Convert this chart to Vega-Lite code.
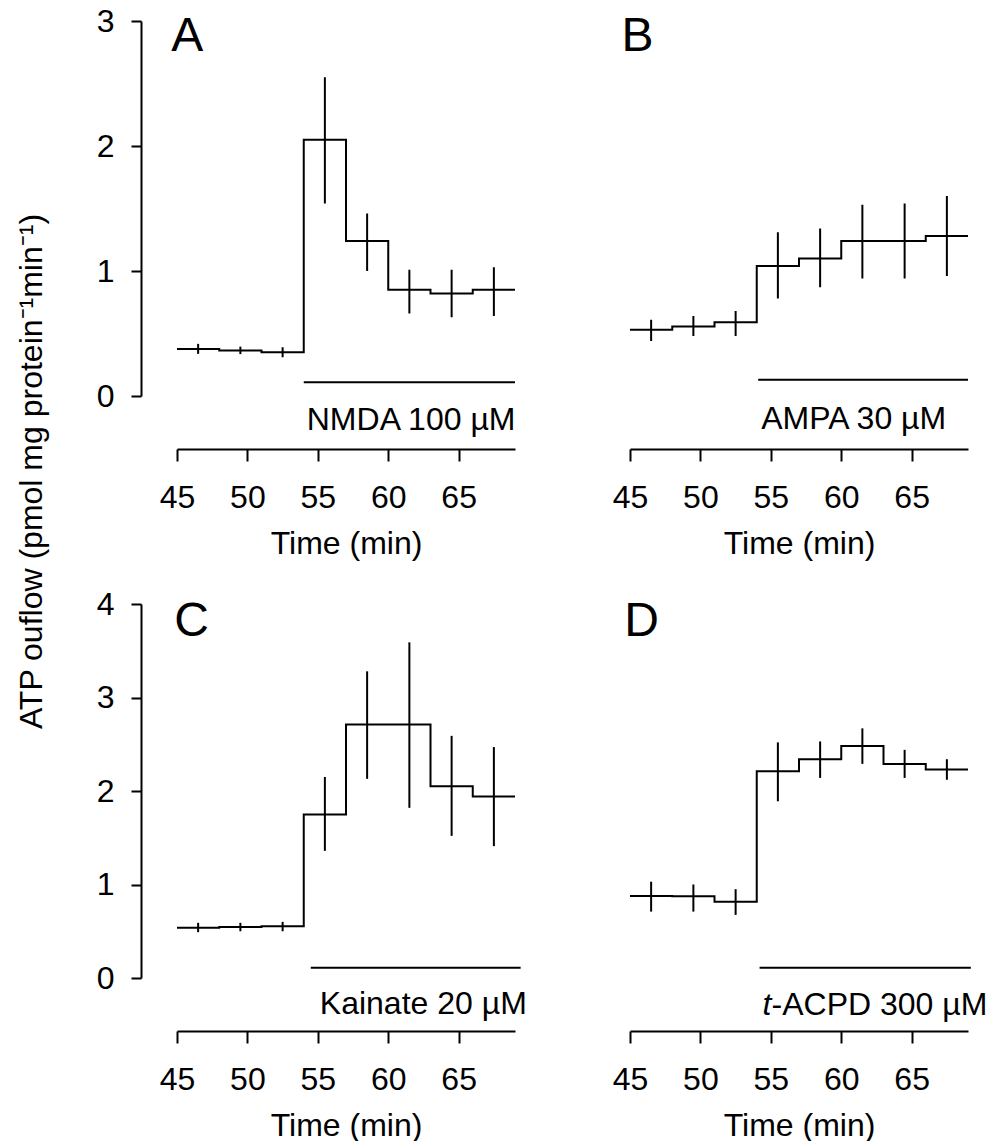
{
  "$schema": "https://vega.github.io/schema/vega-lite/v6.json",
  "padding": {"left": 15, "top": 5, "right": 0, "bottom": 0},
  "background": "white",
  "config": {
    "view": {"stroke": null},
    "font": "Liberation Sans",
    "axis": {"grid": false, "labelFlush": false, "domainColor": "black", "domainWidth": 2, "tickColor": "black", "tickWidth": 2, "labelColor": "black", "titleColor": "black", "labelFontSize": 32, "titleFontSize": 32, "titleFontWeight": "normal", "labelFont": "Liberation Sans", "titleFont": "Liberation Sans"},
    "text": {"font": "Liberation Sans", "color": "black"}
  },
  "datasets": {
    "steps": [
      {"panel": "A", "t": 45, "v": 0.377}, {"panel": "A", "t": 48, "v": 0.365}, {"panel": "A", "t": 51, "v": 0.35}, {"panel": "A", "t": 54, "v": 2.05}, {"panel": "A", "t": 57, "v": 1.24}, {"panel": "A", "t": 60, "v": 0.85}, {"panel": "A", "t": 63, "v": 0.82}, {"panel": "A", "t": 66, "v": 0.85}, {"panel": "A", "t": 69, "v": 0.85},
      {"panel": "B", "t": 45, "v": 0.53}, {"panel": "B", "t": 48, "v": 0.556}, {"panel": "B", "t": 51, "v": 0.59}, {"panel": "B", "t": 54, "v": 1.04}, {"panel": "B", "t": 57, "v": 1.1}, {"panel": "B", "t": 60, "v": 1.24}, {"panel": "B", "t": 63, "v": 1.24}, {"panel": "B", "t": 66, "v": 1.28}, {"panel": "B", "t": 69, "v": 1.28},
      {"panel": "C", "t": 45, "v": 0.537}, {"panel": "C", "t": 48, "v": 0.545}, {"panel": "C", "t": 51, "v": 0.553}, {"panel": "C", "t": 54, "v": 1.75}, {"panel": "C", "t": 57, "v": 2.71}, {"panel": "C", "t": 60, "v": 2.71}, {"panel": "C", "t": 63, "v": 2.05}, {"panel": "C", "t": 66, "v": 1.94}, {"panel": "C", "t": 69, "v": 1.94},
      {"panel": "D", "t": 45, "v": 0.876}, {"panel": "D", "t": 48, "v": 0.873}, {"panel": "D", "t": 51, "v": 0.816}, {"panel": "D", "t": 54, "v": 2.21}, {"panel": "D", "t": 57, "v": 2.34}, {"panel": "D", "t": 60, "v": 2.48}, {"panel": "D", "t": 63, "v": 2.29}, {"panel": "D", "t": 66, "v": 2.23}, {"panel": "D", "t": 69, "v": 2.23}
    ],
    "errs": [
      {"panel": "A", "t": 46.5, "lo": 0.337, "hi": 0.417}, {"panel": "A", "t": 49.5, "lo": 0.335, "hi": 0.395}, {"panel": "A", "t": 52.5, "lo": 0.31, "hi": 0.39}, {"panel": "A", "t": 55.5, "lo": 1.54, "hi": 2.55}, {"panel": "A", "t": 58.5, "lo": 1.0, "hi": 1.46}, {"panel": "A", "t": 61.5, "lo": 0.66, "hi": 1.01}, {"panel": "A", "t": 64.5, "lo": 0.63, "hi": 1.01}, {"panel": "A", "t": 67.5, "lo": 0.64, "hi": 1.03},
      {"panel": "B", "t": 46.5, "lo": 0.44, "hi": 0.61}, {"panel": "B", "t": 49.5, "lo": 0.48, "hi": 0.64}, {"panel": "B", "t": 52.5, "lo": 0.48, "hi": 0.68}, {"panel": "B", "t": 55.5, "lo": 0.78, "hi": 1.31}, {"panel": "B", "t": 58.5, "lo": 0.87, "hi": 1.34}, {"panel": "B", "t": 61.5, "lo": 0.94, "hi": 1.53}, {"panel": "B", "t": 64.5, "lo": 0.94, "hi": 1.54}, {"panel": "B", "t": 67.5, "lo": 0.96, "hi": 1.6},
      {"panel": "C", "t": 46.5, "lo": 0.49, "hi": 0.59}, {"panel": "C", "t": 49.5, "lo": 0.5, "hi": 0.59}, {"panel": "C", "t": 52.5, "lo": 0.5, "hi": 0.6}, {"panel": "C", "t": 55.5, "lo": 1.36, "hi": 2.15}, {"panel": "C", "t": 58.5, "lo": 2.13, "hi": 3.28}, {"panel": "C", "t": 61.5, "lo": 1.82, "hi": 3.59}, {"panel": "C", "t": 64.5, "lo": 1.52, "hi": 2.59}, {"panel": "C", "t": 67.5, "lo": 1.41, "hi": 2.47},
      {"panel": "D", "t": 46.5, "lo": 0.71, "hi": 1.03}, {"panel": "D", "t": 49.5, "lo": 0.71, "hi": 1.0}, {"panel": "D", "t": 52.5, "lo": 0.675, "hi": 0.95}, {"panel": "D", "t": 55.5, "lo": 1.89, "hi": 2.52}, {"panel": "D", "t": 58.5, "lo": 2.14, "hi": 2.53}, {"panel": "D", "t": 61.5, "lo": 2.29, "hi": 2.67}, {"panel": "D", "t": 64.5, "lo": 2.14, "hi": 2.44}, {"panel": "D", "t": 67.5, "lo": 2.12, "hi": 2.34}
    ],
    "drug": [
      {"panel": "A", "prefix": "", "label": "NMDA 100 µM", "start": 54, "end": 69},
      {"panel": "B", "prefix": "", "label": "AMPA 30 µM", "start": 54.1, "end": 69},
      {"panel": "C", "prefix": "", "label": "Kainate 20 µM", "start": 54.5, "end": 69.4},
      {"panel": "D", "prefix": "t", "label": "-ACPD 300 µM", "start": 54.2, "end": 69.2}
    ],
    "letters": [
      {"panel": "A", "letter": "A"}, {"panel": "B", "letter": "B"}, {"panel": "C", "letter": "C"}, {"panel": "D", "letter": "D"}
    ]
  },
  "columns": 2,
  "bounds": "flush",
  "spacing": {"row": 208, "column": 115},
  "concat": [
    {
      "width": 338, "height": 375,
      "layer": [
        {"data": {"name": "steps"}, "transform": [{"filter": "datum.panel === 'A'"}],
         "mark": {"type": "line", "interpolate": "step-after", "color": "black", "strokeWidth": 2},
         "encoding": {
           "x": {"field": "t", "type": "quantitative", "scale": {"domain": [45, 69], "nice": false, "zero": false},
                 "axis": {"values": [45, 50, 55, 60, 65], "offset": 53, "tickSize": 12, "labelPadding": 21, "title": "Time (min)", "titlePadding": 15}},
           "y": {"field": "v", "type": "quantitative", "scale": {"domain": [0, 3], "nice": false, "zero": false},
                 "axis": {"values": [0, 1, 2, 3], "format": "d", "offset": 36, "tickSize": 10, "labelPadding": 17, "title": "ATP ouflow (pmol mg protein⁻¹min⁻¹)", "titleY": 450, "titlePadding": 48}}
         }},
        {"data": {"name": "errs"}, "transform": [{"filter": "datum.panel === 'A'"}],
         "mark": {"type": "rule", "color": "black", "strokeWidth": 2},
         "encoding": {"x": {"field": "t", "type": "quantitative"}, "y": {"field": "lo", "type": "quantitative"}, "y2": {"field": "hi"}}},
        {"data": {"name": "drug"}, "transform": [{"filter": "datum.panel === 'A'"}],
         "mark": {"type": "rule", "color": "black", "strokeWidth": 2},
         "encoding": {"x": {"field": "start", "type": "quantitative"}, "x2": {"field": "end"}, "y": {"datum": 0.11}}},
        {"data": {"name": "drug"}, "transform": [{"filter": "datum.panel === 'A'"}],
         "mark": {"type": "text", "align": "left", "baseline": "middle", "fontSize": 32, "dx": 3},
         "encoding": {"x": {"field": "start", "type": "quantitative"}, "y": {"datum": -0.19}, "text": {"field": "label"}}},
        {"data": {"name": "letters"}, "transform": [{"filter": "datum.panel === 'A'"}],
         "mark": {"type": "text", "align": "left", "baseline": "alphabetic", "fontSize": 48},
         "encoding": {"x": {"datum": 44.6}, "y": {"datum": 2.76}, "text": {"field": "letter"}}}
      ]
    },
    {
      "width": 338, "height": 375,
      "layer": [
        {"data": {"name": "steps"}, "transform": [{"filter": "datum.panel === 'B'"}],
         "mark": {"type": "line", "interpolate": "step-after", "color": "black", "strokeWidth": 2},
         "encoding": {
           "x": {"field": "t", "type": "quantitative", "scale": {"domain": [45, 69], "nice": false, "zero": false},
                 "axis": {"values": [45, 50, 55, 60, 65], "offset": 53, "tickSize": 12, "labelPadding": 21, "title": "Time (min)", "titlePadding": 15}},
           "y": {"field": "v", "type": "quantitative", "scale": {"domain": [0, 3], "nice": false, "zero": false}, "axis": null}
         }},
        {"data": {"name": "errs"}, "transform": [{"filter": "datum.panel === 'B'"}],
         "mark": {"type": "rule", "color": "black", "strokeWidth": 2},
         "encoding": {"x": {"field": "t", "type": "quantitative"}, "y": {"field": "lo", "type": "quantitative"}, "y2": {"field": "hi"}}},
        {"data": {"name": "drug"}, "transform": [{"filter": "datum.panel === 'B'"}],
         "mark": {"type": "rule", "color": "black", "strokeWidth": 2},
         "encoding": {"x": {"field": "start", "type": "quantitative"}, "x2": {"field": "end"}, "y": {"datum": 0.13}}},
        {"data": {"name": "drug"}, "transform": [{"filter": "datum.panel === 'B'"}],
         "mark": {"type": "text", "align": "left", "baseline": "middle", "fontSize": 32, "dx": 3},
         "encoding": {"x": {"field": "start", "type": "quantitative"}, "y": {"datum": -0.18}, "text": {"field": "label"}}},
        {"data": {"name": "letters"}, "transform": [{"filter": "datum.panel === 'B'"}],
         "mark": {"type": "text", "align": "left", "baseline": "alphabetic", "fontSize": 48},
         "encoding": {"x": {"datum": 44.4}, "y": {"datum": 2.76}, "text": {"field": "letter"}}}
      ]
    },
    {
      "width": 338, "height": 374,
      "layer": [
        {"data": {"name": "steps"}, "transform": [{"filter": "datum.panel === 'C'"}],
         "mark": {"type": "line", "interpolate": "step-after", "color": "black", "strokeWidth": 2},
         "encoding": {
           "x": {"field": "t", "type": "quantitative", "scale": {"domain": [45, 69], "nice": false, "zero": false},
                 "axis": {"values": [45, 50, 55, 60, 65], "offset": 53, "tickSize": 12, "labelPadding": 21, "title": "Time (min)", "titlePadding": 15}},
           "y": {"field": "v", "type": "quantitative", "scale": {"domain": [0, 4], "nice": false, "zero": false},
                 "axis": {"values": [0, 1, 2, 3, 4], "format": "d", "offset": 36, "tickSize": 10, "labelPadding": 17, "title": null}}
         }},
        {"data": {"name": "errs"}, "transform": [{"filter": "datum.panel === 'C'"}],
         "mark": {"type": "rule", "color": "black", "strokeWidth": 2},
         "encoding": {"x": {"field": "t", "type": "quantitative"}, "y": {"field": "lo", "type": "quantitative"}, "y2": {"field": "hi"}}},
        {"data": {"name": "drug"}, "transform": [{"filter": "datum.panel === 'C'"}],
         "mark": {"type": "rule", "color": "black", "strokeWidth": 2},
         "encoding": {"x": {"field": "start", "type": "quantitative"}, "x2": {"field": "end"}, "y": {"datum": 0.11}}},
        {"data": {"name": "drug"}, "transform": [{"filter": "datum.panel === 'C'"}],
         "mark": {"type": "text", "align": "left", "baseline": "middle", "fontSize": 32, "dx": 9},
         "encoding": {"x": {"field": "start", "type": "quantitative"}, "y": {"datum": -0.28}, "text": {"field": "label"}}},
        {"data": {"name": "letters"}, "transform": [{"filter": "datum.panel === 'C'"}],
         "mark": {"type": "text", "align": "left", "baseline": "alphabetic", "fontSize": 48},
         "encoding": {"x": {"datum": 44.8}, "y": {"datum": 3.66}, "text": {"field": "letter"}}}
      ]
    },
    {
      "width": 338, "height": 374,
      "layer": [
        {"data": {"name": "steps"}, "transform": [{"filter": "datum.panel === 'D'"}],
         "mark": {"type": "line", "interpolate": "step-after", "color": "black", "strokeWidth": 2},
         "encoding": {
           "x": {"field": "t", "type": "quantitative", "scale": {"domain": [45, 69], "nice": false, "zero": false},
                 "axis": {"values": [45, 50, 55, 60, 65], "offset": 53, "tickSize": 12, "labelPadding": 21, "title": "Time (min)", "titlePadding": 15}},
           "y": {"field": "v", "type": "quantitative", "scale": {"domain": [0, 4], "nice": false, "zero": false}, "axis": null}
         }},
        {"data": {"name": "errs"}, "transform": [{"filter": "datum.panel === 'D'"}],
         "mark": {"type": "rule", "color": "black", "strokeWidth": 2},
         "encoding": {"x": {"field": "t", "type": "quantitative"}, "y": {"field": "lo", "type": "quantitative"}, "y2": {"field": "hi"}}},
        {"data": {"name": "drug"}, "transform": [{"filter": "datum.panel === 'D'"}],
         "mark": {"type": "rule", "color": "black", "strokeWidth": 2},
         "encoding": {"x": {"field": "start", "type": "quantitative"}, "x2": {"field": "end"}, "y": {"datum": 0.11}}},
        {"data": {"name": "drug"}, "transform": [{"filter": "datum.panel === 'D'"}],
         "mark": {"type": "text", "align": "left", "baseline": "middle", "fontSize": 32, "fontStyle": "italic", "dx": 3},
         "encoding": {"x": {"field": "start", "type": "quantitative"}, "y": {"datum": -0.29}, "text": {"field": "prefix"}}},
        {"data": {"name": "drug"}, "transform": [{"filter": "datum.panel === 'D'"}],
         "mark": {"type": "text", "align": "left", "baseline": "middle", "fontSize": 32, "dx": 12},
         "encoding": {"x": {"field": "start", "type": "quantitative"}, "y": {"datum": -0.29}, "text": {"field": "label"}}},
        {"data": {"name": "letters"}, "transform": [{"filter": "datum.panel === 'D'"}],
         "mark": {"type": "text", "align": "left", "baseline": "alphabetic", "fontSize": 48},
         "encoding": {"x": {"datum": 44.6}, "y": {"datum": 3.66}, "text": {"field": "letter"}}}
      ]
    }
  ]
}
